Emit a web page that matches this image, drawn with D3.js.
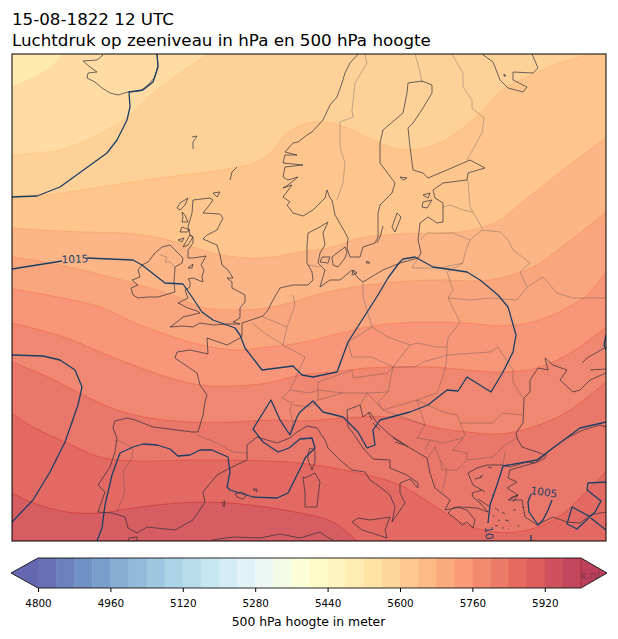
<!DOCTYPE html>
<html>
<head>
<meta charset="utf-8">
<script src="https://cdn.jsdelivr.net/npm/d3@7"></script>
<style>
html, body { margin: 0; background: #fff; }
svg { display: block; font-family: "DejaVu Sans", sans-serif; }
</style>
</head>
<body>
<div id="container"></div>
<script>
// map units: x to the east, y to the north, from the lower left map corner
const titleLines = ['15-08-1822 12 UTC', 'Luchtdruk op zeeniveau in hPa en 500 hPa hoogte'];
const barTicks = [4800, 4960, 5120, 5280, 5440, 5600, 5760, 5920];
const barLevels = d3.range(4800, 6000, 40);
const barLabel = '500 hPa hoogte in meter';

// 500 hPa height contours (m)
const baseLevel = 5520;
const contourLevels = [5560, 5600, 5640, 5680, 5720, 5760, 5800, 5840, 5880, 5920];
const contourLines = [
	[[0,454],[21,463],[38,473],[51,487]],
	[[0,386],[21,388],[48,391],[75,401],[98,413],[118,426],[141,448],[168,468],[196,487]],
	[[0,345],[41,347],[88,354],[121,359],[155,364],[188,368],[221,373],[245,379],[261,391],[275,408],[296,418],[321,418],[335,413],[355,404],[378,394],[398,391],[428,398],[448,411],[468,428],[488,449],[512,463],[548,478],[578,487]],
	[[0,313],[31,311],[71,309],[111,308],[148,303],[181,294],[205,287],[235,283],[261,284],[288,289],[321,294],[348,303],[388,307],[438,308],[468,313],[488,321],[515,343],[541,363],[568,384],[594,403]],
	[[0,284],[38,278],[121,258],[168,243],[188,234],[221,231],[255,233],[285,240],[308,247],[355,256],[421,261],[478,261],[521,274],[555,298],[594,329]],
	[[0,252],[35,246],[88,234],[121,219],[155,206],[181,198],[205,193],[228,191],[255,194],[288,198],[321,206],[355,214],[388,218],[421,219],[455,218],[488,215],[521,219],[555,233],[575,246],[594,269]],
	[[0,218],[28,211],[55,203],[88,189],[121,176],[155,164],[188,156],[221,155],[255,158],[288,166],[321,169],[355,173],[388,174],[421,174],[455,171],[488,169],[521,172],[555,186],[588,209],[594,213]],
	[[0,179],[38,163],[71,146],[105,131],[138,123],[178,119],[221,119],[261,121],[288,120],[348,124],[388,123],[421,114],[455,109],[488,107],[521,114],[555,129],[594,159]],
	[[0,127],[21,114],[55,98],[88,84],[121,80],[188,81],[255,80],[288,78],[321,73],[355,66],[388,56],[421,36],[448,19],[475,10],[505,9],[538,19],[561,36],[581,56],[594,69]],
	[[0,48],[21,38],[55,29],[88,28],[121,33],[155,37],[195,39],[238,36],[288,28],[321,19],[345,0]]
];

// sea level pressure isobars
const isobarLines = [
	[[0,344],[25,345],[48,354],[95,388],[105,401],[115,421],[118,434],[117,449],[131,451],[141,459],[146,474],[145,487]],
	[[0,272],[50,280]],
	[[75,283],[121,281],[130,276],[153,258],[171,257],[180,244],[190,229],[201,221],[223,213],[228,206],[233,193],[250,171],[281,175],[290,166],[301,164],[325,169],[336,199],[366,246],[376,263],[387,278],[391,282],[403,284],[421,274],[435,272],[455,269],[468,261],[486,246],[496,234],[504,206],[501,189],[491,169],[479,149],[455,164],[446,150],[435,151],[416,136],[398,129],[368,121],[361,111],[363,96],[355,93],[346,109],[331,124],[311,129],[301,140],[288,129],[285,124],[278,106],[268,121],[259,141],[241,112],[251,99],[266,89],[277,93],[288,102],[300,103],[303,93],[293,83],[290,76],[276,48],[265,43],[241,44],[218,51],[215,54],[218,69],[216,84],[200,91],[188,91],[178,86],[166,85],[158,92],[145,96],[131,97],[121,94],[108,88],[100,66],[93,36],[90,13],[85,0]],
	[[0,186],[31,185],[48,181],[63,171],[70,154],[66,136],[53,99],[38,69],[21,41],[0,19]],
	[[594,206],[592,196],[594,191]],
	[[594,119],[568,113],[545,96],[525,81],[491,75],[485,56],[478,36],[476,18]],
	[[519,6],[519,0]],
	[[519,47],[516,39],[517,29],[526,16],[531,21],[536,31],[540,41]],
	[[594,59],[576,58],[575,51],[589,40],[583,29],[565,12],[555,17],[560,34],[575,26],[594,11]]
];
const isobarLabels = ['1015', '1005', '10'];
const isobarLabelSpots = [[63,282], [532,49], [477,8]];
const isobarLabelAngles = [-2, 8, 85];

const coastLines = [
	// Iceland, Faroe, Shetland, Orkney
	[[145,487],[146,476],[143,464],[136,456],[128,450],[116,449],[106,446],[98,448],[90,453],[83,459],[75,463],[76,468],[85,469],[78,474],[71,480],[85,481],[91,486]],
	[[180,404],[185,405],[181,399],[181,392]],
	[[225,374],[220,369],[218,361]],
	[[201,348],[208,349],[205,344],[201,348]],
	// Great Britain and Ireland
	[[181,341],[198,343],[201,341],[196,334],[191,328],[208,327],[211,323],[205,311],[195,306],[191,302],[205,296],[208,286],[210,276],[216,271],[221,263],[215,263],[220,259],[220,253],[233,246],[233,239],[228,233],[228,223],[221,219],[228,217],[215,217],[201,216],[188,218],[181,214],[170,215],[158,214],[161,216],[171,224],[188,228],[185,230],[176,233],[166,238],[176,243],[173,251],[178,254],[178,259],[176,262],[181,263],[191,259],[190,264],[192,271],[189,276],[194,285],[181,283],[176,283],[176,291],[181,298],[181,304],[178,306],[176,314],[180,328],[181,341]],
	[[143,288],[150,294],[158,296],[163,291],[171,283],[170,278],[163,274],[162,258],[163,249],[146,244],[136,244],[126,243],[121,246],[119,253],[126,256],[120,261],[128,264],[126,271],[130,276],[136,279],[143,288]],
	[[168,338],[176,343],[173,336],[168,331],[165,333],[168,338]],
	[[170,329],[173,326],[176,319],[170,319],[171,324],[170,329]],
	[[170,314],[178,311],[175,309],[168,309],[170,314]],
	[[178,306],[171,294],[176,296],[181,304],[178,306]],
	[[166,301],[172,303],[170,299],[166,301]],
	[[176,273],[181,277],[180,273],[176,273]],
	// Norway round the Baltic, down the Atlantic, Mediterranean and Black Sea
	[[346,487],[338,478],[333,468],[330,458],[325,444],[318,436],[311,421],[300,409],[295,406],[286,399],[281,398],[273,389],[285,386],[273,386],[271,378],[291,376],[273,374],[271,364],[276,361],[286,364],[276,356],[271,353],[280,356],[271,344],[278,339],[275,336],[281,328],[291,325],[301,331],[313,343],[315,351],[318,343],[320,341],[323,326],[330,314],[336,303],[335,293],[338,284],[348,284],[351,294],[363,298],[366,304],[366,328],[368,336],[380,348],[383,358],[368,378],[368,398],[371,411],[391,428],[395,448],[396,458],[410,460],[420,456],[420,448],[411,433],[401,418],[396,413],[398,394],[401,371],[411,368],[416,363],[435,371],[458,381],[473,373],[456,368],[455,361],[431,358],[421,351],[423,343],[431,338],[431,319],[425,318],[416,324],[408,318],[406,301],[409,288],[406,283],[388,278],[371,271],[351,259],[346,263],[340,271],[328,261],[318,261],[308,254],[313,271],[306,278],[308,288],[313,296],[311,308],[316,319],[306,313],[296,308],[295,296],[295,278],[300,269],[301,261],[296,256],[281,256],[268,253],[261,241],[256,231],[251,225],[230,218],[230,204],[215,196],[195,203],[196,187],[178,191],[165,189],[163,183],[185,168],[188,156],[195,146],[193,139],[191,126],[186,109],[180,109],[165,111],[141,114],[123,121],[115,123],[103,120],[101,113],[105,103],[103,89],[98,74],[86,56],[93,49],[86,29],[100,28],[113,24],[116,13],[125,8],[135,14],[163,11],[181,21],[193,39],[191,49],[205,66],[218,73],[235,81],[235,96],[245,104],[265,98],[278,103],[285,109],[295,115],[305,113],[313,101],[316,93],[328,81],[340,71],[353,69],[358,61],[368,54],[378,46],[383,34],[380,19],[393,38],[388,48],[388,58],[398,62],[406,53],[406,58],[395,66],[378,73],[378,81],[361,82],[351,93],[341,108],[336,114],[335,131],[348,136],[351,124],[358,129],[365,118],[378,106],[398,93],[415,83],[418,68],[423,53],[438,41],[433,31],[448,34],[465,33],[476,29],[468,38],[461,44],[460,48],[470,51],[461,56],[456,68],[465,73],[475,76],[490,76],[498,74],[515,79],[523,78],[533,86],[525,89],[510,94],[505,103],[504,108],[511,118],[512,143],[518,149],[518,161],[526,173],[536,171],[533,183],[541,176],[555,171],[548,161],[561,149],[568,151],[578,161],[594,168]],
	// Azov
	[[570,178],[575,183],[594,194]],
	[[578,171],[594,172]],
	// Turkey, Peloponnese
	[[594,114],[588,116],[571,111],[555,103],[535,89],[533,83],[525,79],[498,71],[496,63],[505,59],[495,53],[506,46],[496,41],[510,41],[513,24],[518,21],[525,16],[541,24],[555,19],[568,18],[578,26],[594,29]],
	[[441,33],[436,28],[443,23],[450,16],[455,19],[461,13],[463,21],[455,31],[445,34],[441,33]],
	// Mediterranean islands, North Africa
	[[298,93],[303,91],[303,79],[300,71],[296,81],[296,88],[298,93]],
	[[293,63],[303,68],[308,59],[306,44],[305,34],[293,34],[293,48],[291,64],[293,63]],
	[[340,19],[346,23],[358,21],[378,24],[373,11],[375,3],[360,8],[350,11],[340,19]],
	[[200,1],[221,4],[248,3],[268,7],[288,3],[298,6],[308,9],[315,4],[321,1]],
	[[116,0],[117,3],[125,4],[125,0]],
	[[223,47],[230,49],[235,46],[231,42],[225,44],[223,47]],
	[[241,52],[245,52],[245,49],[241,52]],
	[[210,38],[213,40],[212,34],[210,38]],
	// Baltic islands
	[[385,328],[389,324],[383,309],[380,314],[385,328]],
	[[371,315],[368,304],[365,298]],
	[[325,288],[333,294],[335,289],[333,283],[326,274],[321,276],[320,284],[325,288]],
	[[310,284],[318,284],[316,278],[308,279],[310,284]],
	[[355,280],[358,278],[354,278],[355,280]],
	[[341,271],[345,268],[340,266],[341,271]],
	[[411,339],[420,341],[415,333],[410,334],[411,339]],
	[[411,346],[418,348],[416,343],[411,346]],
	[[388,364],[395,363],[391,361],[388,364]],
	// White Sea
	[[470,487],[481,479],[488,461],[496,453],[511,449],[515,454],[501,461],[501,469],[521,468],[526,473],[520,487]],
	[[492,467],[494,465],[492,465],[492,467]],
	// Adriatic islands
	[[381,103],[388,99],[396,94]],
	[[383,99],[392,96]],
	[[356,129],[360,121]],
	[[361,118],[368,111]],
	// Aegean islands
	[[498,43],[506,46],[501,39]],
	[[466,42],[478,34]],
	[[470,51],[473,49]],
	[[476,74],[480,73]],
	[[468,64],[471,66]],
	[[463,62],[470,64]],
	[[480,46],[482,45]],
	[[483,33],[487,30]],
	[[490,29],[493,27]],
	[[493,21],[497,20]],
	[[483,16],[486,15]],
	[[496,13],[497,12]],
	[[506,16],[507,14]],
	[[501,31],[504,31]],
	[[510,34],[512,33]],
	[[486,21],[488,20]],
	[[481,26],[482,24]],
	[[490,13],[492,13]]
];

const borderLines = [
	[[148,286],[155,284],[153,279],[158,279],[163,274]],
	[[353,487],[355,478],[343,458],[340,431],[341,424],[328,419],[328,394],[333,378],[331,358],[325,341]],
	[[403,487],[408,469],[410,458]],
	[[440,487],[451,468],[451,454],[460,441],[460,433],[472,423],[470,408],[455,381]],
	[[456,361],[458,334],[461,329],[470,313]],
	[[431,334],[438,336],[451,331],[461,329]],
	[[408,301],[415,308],[441,308],[458,301],[470,311]],
	[[458,301],[453,288],[451,278],[428,273],[400,273],[406,283]],
	[[470,311],[488,309],[496,301],[501,291],[518,278],[508,269],[515,254],[531,264],[545,248],[561,243],[594,243]],
	[[451,278],[435,269],[441,251],[436,243],[448,219],[436,203],[435,194]],
	[[436,243],[458,241],[478,243],[505,241],[515,254]],
	[[351,258],[351,244],[360,214]],
	[[360,214],[376,204],[398,196],[405,198],[425,194],[435,194]],
	[[360,214],[336,199],[340,184],[360,184],[381,174],[398,196]],
	[[381,174],[403,174],[411,179],[435,186],[435,194]],
	[[435,186],[433,171],[425,148]],
	[[435,186],[478,189],[486,194],[501,171],[501,159],[511,143]],
	[[371,131],[405,141],[425,148]],
	[[405,141],[431,129],[445,126],[448,118]],
	[[448,118],[480,118],[491,128],[510,126]],
	[[306,159],[340,171],[341,163],[376,168],[381,174],[376,149]],
	[[306,159],[306,151],[331,148],[355,148],[376,149],[366,139],[371,131]],
	[[240,218],[251,209],[271,196],[293,184],[285,166],[278,151]],
	[[251,224],[275,214],[271,196]],
	[[281,246],[283,236],[275,214]],
	[[296,276],[308,274]],
	[[278,151],[270,143],[280,138],[278,131],[281,119],[278,106]],
	[[278,151],[298,148],[306,151]],
	[[306,151],[306,141],[298,134],[281,136]],
	[[306,141],[331,148]],
	[[355,148],[348,136]],
	[[355,148],[371,131]],
	[[185,106],[205,98],[221,89],[235,88]],
	[[103,101],[110,99],[121,93],[120,83],[111,69],[113,49],[105,29]],
	[[371,131],[393,123],[413,116],[405,103],[418,101],[413,91]],
	[[405,141],[413,116]],
	[[418,101],[431,98],[451,103],[441,91],[455,88],[455,81]],
	[[448,118],[453,106],[451,103]],
	[[455,81],[481,84],[493,96],[505,103]],
	[[428,81],[430,71],[445,71],[455,81]],
	[[416,83],[423,94],[428,81],[435,71],[430,49]],
	[[491,76],[493,89]]
];

const width = 618, height = 639;
const map = { left: 12, right: 606, top: 54, bottom: 541 };
const bar = { left: 38, right: 581, top: 558, bottom: 588, tipLeft: 11, tipRight: 607 };

const svg = d3.select('#container').append('svg').attr('width', width).attr('height', height);

const x = d3.scaleLinear().domain([0, 594]).range([map.left, map.right]);
const y = d3.scaleLinear().domain([0, 487]).range([map.bottom, map.top]);
const barX = d3.scaleLinear().domain([4800, 6000]).range([bar.left, bar.right]);

// same anchors as matplotlib RdYlBu_r
const ramp = d3.scaleLinear()
	.domain(d3.range(11).map(i => i / 10))
	.range(['#313695', '#4575b4', '#74add1', '#abd9e9', '#e0f3f8', '#ffffbf', '#fee090', '#fdae61', '#f46d43', '#d73027', '#a50026'])
	.interpolate(d3.interpolateRgb);
const onWhite = (c, alpha) => d3.interpolateRgb('#fff', c)(alpha);
const bandColor = v => ramp((v - 4800) / 1200);
const cellColor = v => ramp((v - 4800 + 20) / 1200);

svg.selectAll('text.title')
	.data(titleLines)
	.enter()
	.append('text')
	.attr('class', 'title')
	.attr('x', 12)
	.attr('y', (d, i) => 25 + i * 21)
	.style('font-size', '16.7px')
	.text(d => d);

svg.append('clipPath').attr('id', 'mapClip')
	.append('rect')
	.attr('x', map.left).attr('y', map.top)
	.attr('width', map.right - map.left).attr('height', map.bottom - map.top);

const mapG = svg.append('g').attr('clip-path', 'url(#mapClip)');
const line = d3.line().x(d => x(d[0])).y(d => y(d[1]));
const smooth = d3.line().x(d => x(d[0])).y(d => y(d[1])).curve(d3.curveCatmullRom.alpha(0.5));

mapG.append('rect')
	.attr('x', map.left).attr('y', map.top)
	.attr('width', map.right - map.left).attr('height', map.bottom - map.top)
	.attr('fill', onWhite(bandColor(baseLevel), 0.72));

// each band runs from its contour to the corners south-east of it
const closed = pts => {
	const last = pts[pts.length - 1];
	const corners = last[1] > 0 ? [[594, 487], [594, 0], [0, 0]] : [[0, 0]];
	return smooth(pts) + corners.map(c => `L${x(c[0])},${y(c[1])}`).join('') + 'Z';
};

mapG.selectAll('path.band')
	.data(contourLines)
	.enter()
	.append('path')
	.attr('class', 'band')
	.attr('d', closed)
	.attr('fill', (d, i) => onWhite(bandColor(contourLevels[i]), 0.72));

mapG.selectAll('path.seam')
	.data(contourLines)
	.enter()
	.append('path')
	.attr('class', 'seam')
	.attr('d', smooth)
	.attr('fill', 'none')
	.attr('stroke', (d, i) => bandColor(contourLevels[i]))
	.attr('stroke-opacity', 0.45)
	.attr('stroke-width', 1);

mapG.selectAll('path.border')
	.data(borderLines)
	.enter()
	.append('path')
	.attr('class', 'border')
	.attr('d', line)
	.attr('fill', 'none')
	.attr('stroke', '#4a4a4a')
	.attr('stroke-opacity', 0.42)
	.attr('stroke-width', 0.8)
	.attr('stroke-linejoin', 'round');

mapG.selectAll('path.coast')
	.data(coastLines)
	.enter()
	.append('path')
	.attr('class', 'coast')
	.attr('d', line)
	.attr('fill', 'none')
	.attr('stroke', '#2e2e3a')
	.attr('stroke-opacity', 0.88)
	.attr('stroke-width', 0.8)
	.attr('stroke-linejoin', 'round');

mapG.selectAll('path.isobar')
	.data(isobarLines)
	.enter()
	.append('path')
	.attr('class', 'isobar')
	.attr('d', line)
	.attr('fill', 'none')
	.attr('stroke', '#1c3f66')
	.attr('stroke-width', 1.3)
	.attr('stroke-linejoin', 'round');

mapG.selectAll('text.isobarLabel')
	.data(isobarLabels)
	.enter()
	.append('text')
	.attr('class', 'isobarLabel')
	.attr('text-anchor', 'middle')
	.attr('dy', '0.36em')
	.attr('transform', (d, i) => `translate(${x(isobarLabelSpots[i][0])},${y(isobarLabelSpots[i][1])}) rotate(${isobarLabelAngles[i]})`)
	.style('font-size', '10.5px')
	.style('fill', '#1c3f66')
	.text(d => d);

svg.append('rect')
	.attr('x', map.left).attr('y', map.top)
	.attr('width', map.right - map.left).attr('height', map.bottom - map.top)
	.attr('fill', 'none')
	.attr('stroke', '#000')
	.attr('stroke-width', 1);

// colorbar
const midY = (bar.top + bar.bottom) / 2;
const lowTip = `${bar.tipLeft},${midY} ${bar.left},${bar.top} ${bar.left},${bar.bottom}`;
const highTip = `${bar.tipRight},${midY} ${bar.right},${bar.top} ${bar.right},${bar.bottom}`;

svg.append('polygon').attr('points', lowTip).attr('fill', onWhite(ramp(0), 0.75));
svg.append('polygon').attr('points', highTip).attr('fill', onWhite(ramp(1), 0.75));

svg.append('clipPath').attr('id', 'tipClip').append('polygon').attr('points', highTip);
svg.append('text')
	.attr('clip-path', 'url(#tipClip)')
	.attr('x', 600).attr('y', 579)
	.attr('text-anchor', 'end')
	.style('font-size', '11px')
	.style('fill', '#333')
	.style('opacity', 0.45)
	.text('k.nl');

svg.selectAll('rect.cell')
	.data(barLevels)
	.enter()
	.append('rect')
	.attr('class', 'cell')
	.attr('x', d => barX(d))
	.attr('y', bar.top)
	.attr('width', d => barX(d + 40) - barX(d) + 0.4)
	.attr('height', bar.bottom - bar.top)
	.attr('fill', d => onWhite(cellColor(d), 0.75));

svg.append('path')
	.attr('d', `M${bar.left},${bar.top}L${bar.tipLeft},${midY}L${bar.left},${bar.bottom}L${bar.right},${bar.bottom}L${bar.tipRight},${midY}L${bar.right},${bar.top}Z`)
	.attr('fill', 'none')
	.attr('stroke', '#111')
	.attr('stroke-width', 0.9);

svg.append('line')
	.attr('x1', bar.right).attr('x2', bar.right)
	.attr('y1', bar.top).attr('y2', bar.bottom)
	.attr('stroke', '#9a2a40')
	.attr('stroke-width', 0.8);

const axis = d3.axisBottom(barX).tickValues(barTicks).tickFormat(d3.format('d')).tickSize(4).tickPadding(7.5);
const axisG = svg.append('g').attr('transform', `translate(0,${bar.bottom})`).call(axis);
axisG.select('.domain').remove();
axisG.selectAll('text').style('font-size', '10.4px').style('font-family', '"DejaVu Sans", sans-serif').style('fill', '#000');

svg.append('text')
	.attr('x', (bar.left + bar.right) / 2 - 1)
	.attr('y', 626)
	.attr('text-anchor', 'middle')
	.style('font-size', '12.4px')
	.text(barLabel);
</script>
</body>
</html>
